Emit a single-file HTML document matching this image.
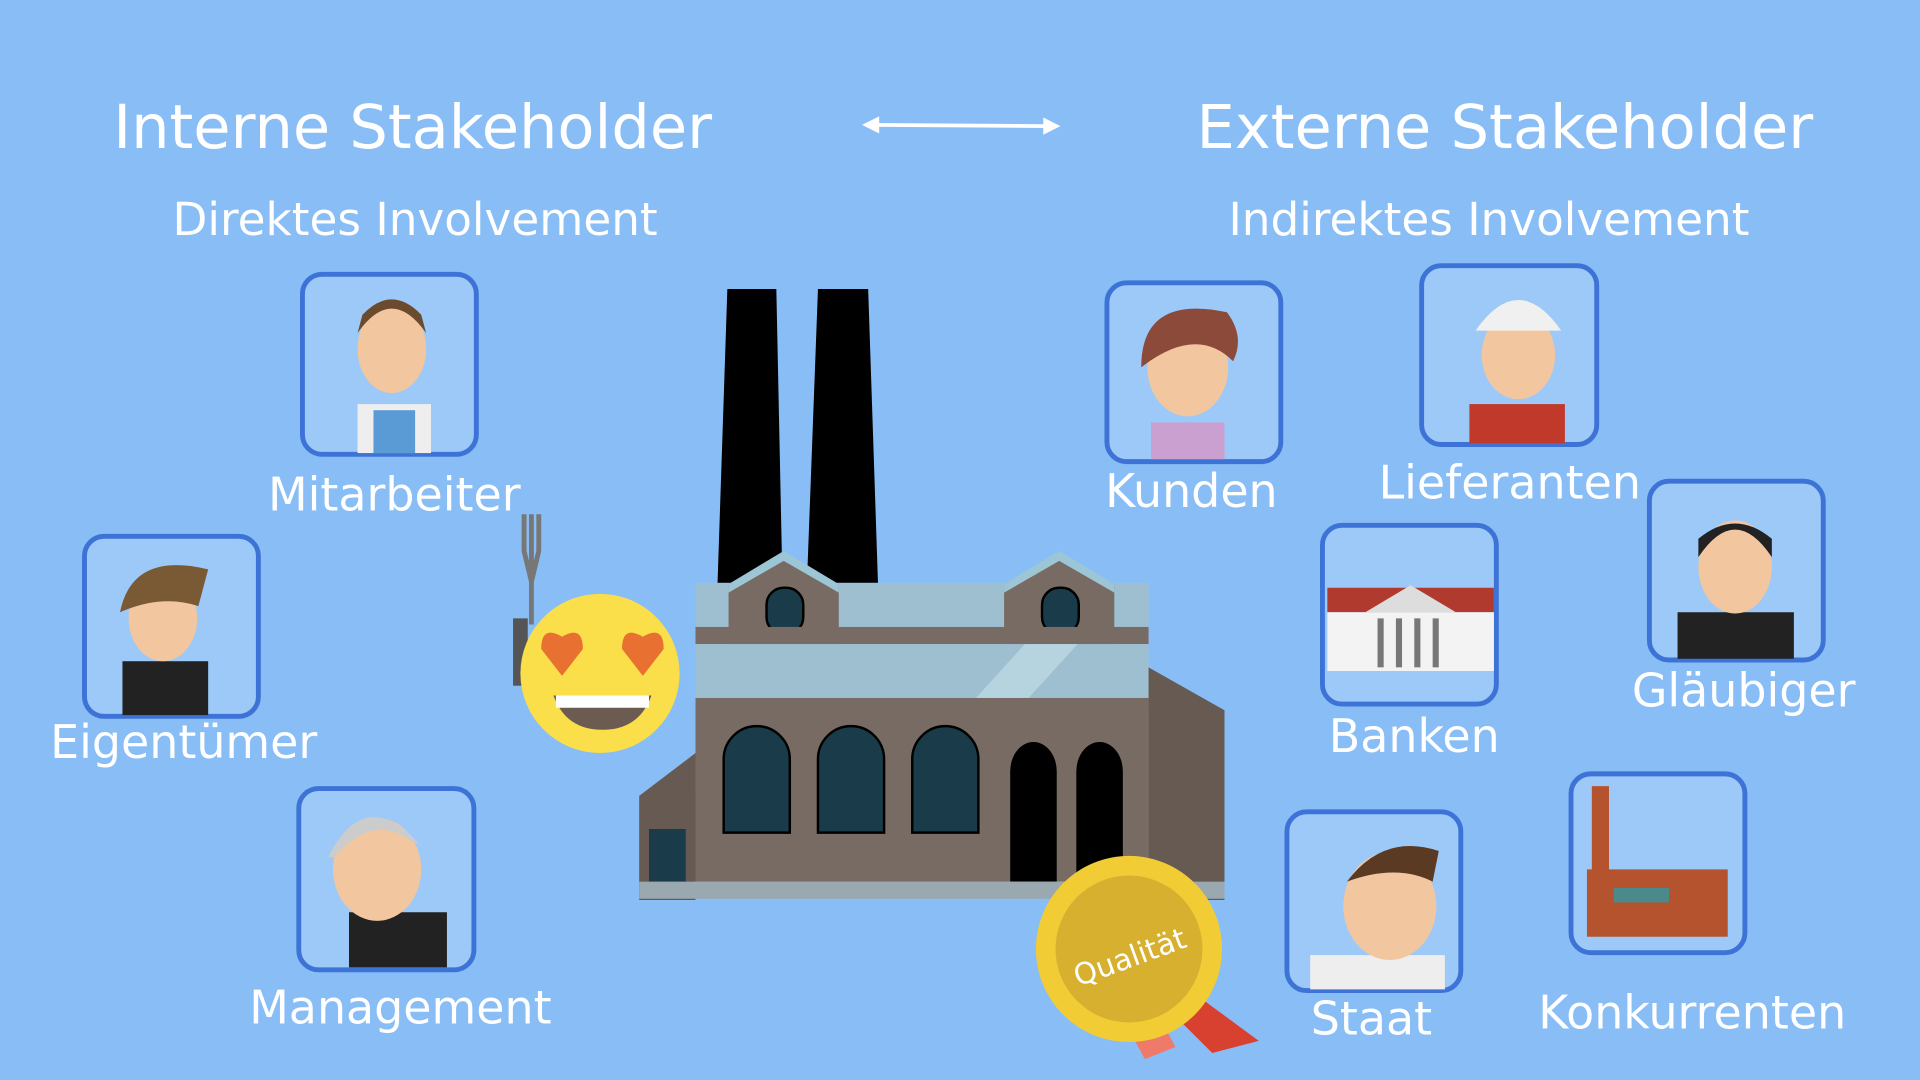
<!DOCTYPE html>
<html><head><meta charset="utf-8"><style>
html,body{margin:0;padding:0;width:1920px;height:1080px;overflow:hidden;background:#89bdf6}
svg{display:block}
text{font-family:"DejaVu Sans","Liberation Sans",sans-serif;fill:#fff}
</style></head><body>
<svg width="1920" height="1080" viewBox="0 0 1568 882" xmlns="http://www.w3.org/2000/svg">
<rect width="1568" height="882" fill="#89bdf6"/>
<g font-size="49.5">
<text x="337" y="121" text-anchor="middle">Interne Stakeholder</text>
<text x="1229" y="121" text-anchor="middle">Externe Stakeholder</text>
</g>
<g stroke="#fff" stroke-width="3" fill="#fff">
<line x1="712" y1="102" x2="858" y2="103"/>
<polygon points="704,102 718,95 718,109" stroke="none"/>
<polygon points="866,103 852,96 852,110" stroke="none"/>
</g>
<g font-size="37">
<text x="339" y="192" text-anchor="middle">Direktes Involvement</text>
<text x="1216" y="192" text-anchor="middle">Indirektes Involvement</text>
</g>
<g fill="#9cc9f8" stroke="#3d73d6" stroke-width="4">
<rect x="247" y="224" width="142" height="147" rx="16"/>
<rect x="69" y="438" width="142" height="147" rx="16"/>
<rect x="244" y="644" width="143" height="148" rx="16"/>
<rect x="904" y="231" width="142" height="146" rx="16"/>
<rect x="1161" y="217" width="143" height="146" rx="16"/>
<rect x="1080" y="429" width="142" height="146" rx="16"/>
<rect x="1347" y="393" width="142" height="146" rx="16"/>
<rect x="1051" y="663" width="142" height="146" rx="16"/>
<rect x="1283" y="632" width="142" height="146" rx="16"/>
</g>
<g>
<rect x="292" y="330" width="60" height="40" fill="#eee"/><rect x="305" y="335" width="34" height="35" fill="#5b9bd5"/>
<ellipse cx="320" cy="285" rx="28" ry="36" fill="#f2c7a0"/><path d="M292 272 q28 -40 56 0 l-4 -15 q-24 -25 -48 0z" fill="#6b4a2e"/>
<rect x="100" y="540" width="70" height="44" fill="#222"/><ellipse cx="133" cy="505" rx="28" ry="35" fill="#f2c7a0"/><path d="M98 500 q10 -50 72 -35 l-8 30 q-30 -10 -64 5z" fill="#7a5a34"/>
<rect x="285" y="745" width="80" height="45" fill="#222"/><ellipse cx="308" cy="710" rx="36" ry="42" fill="#f2c7a0"/><path d="M268 700 q30 -60 75 -10 l-10 -5 q-30 -20 -60 15z" fill="#ccc"/>
<rect x="940" y="345" width="60" height="30" fill="#c9a0d0"/><ellipse cx="970" cy="300" rx="33" ry="40" fill="#f2c7a0"/><path d="M932 300 q0 -60 70 -45 q15 20 5 40 q-30 -30 -75 5z" fill="#8b4a3a"/>
<rect x="1200" y="330" width="78" height="32" fill="#c0392b"/><ellipse cx="1240" cy="290" rx="30" ry="36" fill="#f2c7a0"/><path d="M1205 270 q35 -50 70 0z" fill="#f0f0f0"/>
<rect x="1370" y="500" width="95" height="38" fill="#222"/><ellipse cx="1417" cy="463" rx="30" ry="38" fill="#f2c7a0"/><path d="M1387 455 q30 -45 60 0 l0 -15 q-30 -25 -60 0z" fill="#222"/>
<rect x="1070" y="780" width="110" height="28" fill="#eee"/><ellipse cx="1135" cy="740" rx="38" ry="44" fill="#f2c7a0"/><path d="M1100 720 q30 -40 75 -25 l-5 25 q-30 -15 -70 0z" fill="#5a3a22"/>
<rect x="1084" y="480" width="136" height="20" fill="#b03a2e"/><polygon points="1115,500 1152,478 1189,500" fill="#ddd"/><rect x="1084" y="500" width="136" height="48" fill="#f3f3f3"/>
<g fill="#777"><rect x="1125" y="505" width="5" height="40"/><rect x="1140" y="505" width="5" height="40"/><rect x="1155" y="505" width="5" height="40"/><rect x="1170" y="505" width="5" height="40"/></g>
<rect x="1300" y="642" width="14" height="120" fill="#b5532f"/><rect x="1296" y="710" width="115" height="55" fill="#b5532f"/><rect x="1318" y="725" width="45" height="12" fill="#4b8a8a"/>
</g>
<g font-size="37.5">
<text x="322" y="417" text-anchor="middle">Mitarbeiter</text>
<text x="150" y="619" text-anchor="middle">Eigentümer</text>
<text x="327" y="836" text-anchor="middle">Management</text>
<text x="973" y="414" text-anchor="middle">Kunden</text>
<text x="1233" y="407" text-anchor="middle">Lieferanten</text>
<text x="1155" y="614" text-anchor="middle">Banken</text>
<text x="1424" y="577" text-anchor="middle">Gläubiger</text>
<text x="1120" y="845" text-anchor="middle">Staat</text>
<text x="1382" y="840" text-anchor="middle">Konkurrenten</text>
</g>
<polygon points="594,236 634,236 639,476 586,476" fill="#000"/>
<polygon points="668,236 709,236 717,476 659,476" fill="#000"/>
<rect x="568" y="476" width="370" height="50" fill="#9ebfd0"/>
<polygon points="595,484 595,477 640,452 685,477 685,526 595,526" fill="#786b63"/>
<polygon points="595,477 640,450 685,477 685,484 640,458 595,484" fill="#9cc6d6"/>
<polygon points="820,484 820,477 865,452 910,477 910,526 820,526" fill="#786b63"/>
<polygon points="820,477 865,450 910,477 910,484 865,458 820,484" fill="#9cc6d6"/>
<rect x="626" y="480" width="30" height="38" rx="14" fill="#1a3c4a" stroke="#000" stroke-width="2"/>
<rect x="851" y="480" width="30" height="38" rx="14" fill="#1a3c4a" stroke="#000" stroke-width="2"/>
<rect x="568" y="512" width="370" height="14" fill="#786b63"/>
<rect x="568" y="526" width="370" height="44" fill="#9ebfd0"/>
<polygon points="837,526 880,526 840,570 797,570" fill="#b6d4e0"/>
<rect x="568" y="570" width="370" height="150" fill="#786b63"/>
<polygon points="938,545 1000,580 1000,735 938,735" fill="#675a52"/>
<polygon points="568,615 522,650 522,735 568,735" fill="#675a52"/>
<rect x="530" y="677" width="30" height="43" fill="#1a3c4a"/>
<g fill="#1a3c4a" stroke="#000" stroke-width="2">
<path d="M591 680 v-60 a27 27 0 0 1 54 0 v60z"/>
<path d="M668 680 v-60 a27 27 0 0 1 54 0 v60z"/>
<path d="M745 680 v-60 a27 27 0 0 1 54 0 v60z"/>
</g>
<path d="M825 720 v-90 a19 24 0 0 1 38 0 v90z" fill="#000"/>
<path d="M879 720 v-90 a19 24 0 0 1 38 0 v90z" fill="#000"/>
<rect x="522" y="720" width="478" height="14" fill="#9aa8b0"/>
<g stroke="#777" stroke-width="4" fill="none"><path d="M428 420 v30 l6 25 l6 -25 v-30 M434 420 v50 M434 470 v40"/></g>
<rect x="419" y="505" width="12" height="55" fill="#555"/>
<circle cx="490" cy="550" r="65" fill="#fbdf4a"/>
<path d="M442 530 q0 -20 17 -10 q17 -10 17 10 l-17 22z" fill="#e87030"/>
<path d="M508 530 q0 -20 17 -10 q17 -10 17 10 l-17 22z" fill="#e87030"/>
<path d="M452 568 h80 q-10 28 -40 28 q-30 0 -40 -28z" fill="#6b5b50"/>
<rect x="454" y="568" width="76" height="10" fill="#fff"/>
<polygon points="905,810 935,865 960,855 930,800" fill="#f07a6a"/>
<polygon points="940,810 990,860 1028,850 960,800" fill="#d8402f"/>
<circle cx="922" cy="775" r="76" fill="#f2cc35"/>
<circle cx="922" cy="775" r="60" fill="#d8b030"/>
<text x="922" y="790" font-size="24" text-anchor="middle" transform="rotate(-20 922 780)">Qualität</text>
</svg>
</body></html>
